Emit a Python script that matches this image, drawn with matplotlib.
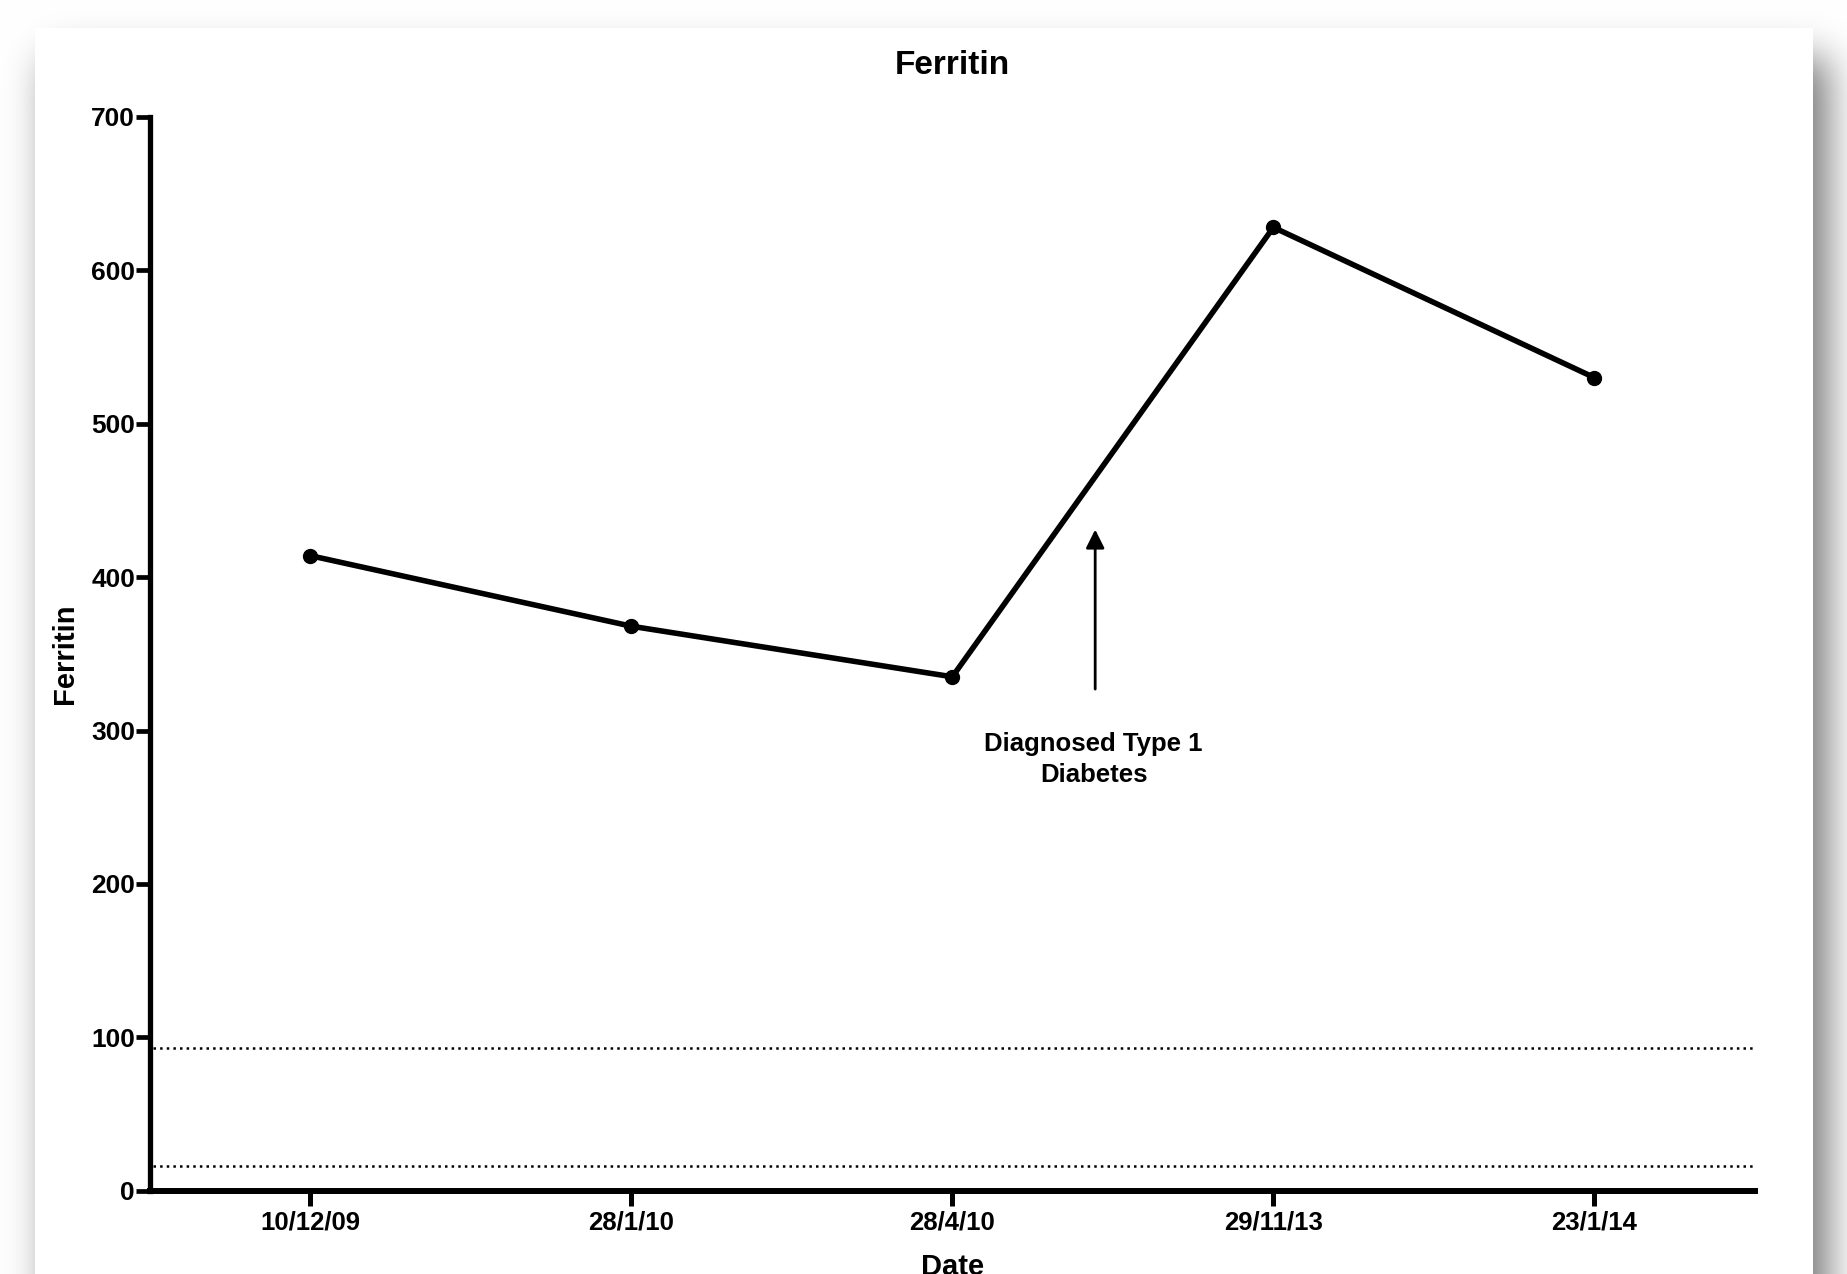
import numpy as np
import matplotlib.pyplot as plt

# data
dates = ['10/12/09', '28/1/10', '28/4/10', '29/11/13', '23/1/14']
ferritin = [414, 368, 335, 628, 530]
ref_upper = 93
ref_lower = 16
note_text = 'Diagnosed Type 1\nDiabetes'
note_x = 2.445
note_tail = 327
note_head = 431
note_text_y = 281

W, H = 1847, 1274
plt.rcParams['font.family'] = ['Liberation Sans', 'DejaVu Sans']
plt.rcParams['font.weight'] = 'bold'

fig = plt.figure(figsize=(W / 100, H / 100), dpi=100)

# white card with a soft drop shadow behind the plot
def soft_edge(n, lo, hi, sigma):
    ind = np.zeros(n + 200)
    ind[max(lo + 100, 0):min(hi + 100, n + 200)] = 1.0
    k = np.arange(-4 * sigma, 4 * sigma + 1)
    kern = np.exp(-0.5 * (k / sigma) ** 2)
    kern /= kern.sum()
    return np.convolve(ind, kern, mode='same')[100:100 + n]

card_x0, card_x1, card_y0 = 35, 1813, 28
dx, dy, sig = 14, 30, 20
sx = soft_edge(W, card_x0 + dx, card_x1 + dx, sig)
sy = soft_edge(H, card_y0 + dy, H + 200, sig)
shade = 1 - 0.55 * np.outer(sy, sx)
shade[card_y0:, card_x0:card_x1] = 1.0
bg = np.dstack([shade, shade, shade])
fig.figimage(bg, 0, 0, origin='upper', zorder=-1)

ax = fig.add_axes([149.6 / W, 1 - 1190.7 / H, (1755 - 149.6) / W, (1190.7 - 116.9) / H])
ax.set_facecolor('none')

x = np.arange(len(dates))
ax.plot(x, ferritin, color='black', linewidth=4, marker='o', markersize=10,
        clip_on=False, zorder=3)

ax.hlines([ref_upper, ref_lower], -0.49, 4.5, colors='black', linestyles=':',
          linewidth=1.8)

ax.annotate('', xy=(note_x, note_head), xytext=(note_x, note_tail),
            arrowprops=dict(arrowstyle='-|>', color='black', lw=2,
                            mutation_scale=28, shrinkA=0, shrinkB=0))
ax.text(note_x - 0.005, note_text_y, note_text, ha='center', va='center',
        fontsize=18.5, fontweight='bold', linespacing=1.35)

ax.set_xlim(-0.5, 4.5)
ax.set_ylim(0, 700)
ax.set_xticks(x)
ax.set_xticklabels(dates)
ax.set_yticks(np.arange(0, 701, 100))

for s in ['top', 'right']:
    ax.spines[s].set_visible(False)
ax.spines['left'].set_linewidth(3.8)
ax.spines['bottom'].set_linewidth(4.3)

ax.tick_params(axis='x', length=10.5, width=3.6, pad=3.5, labelsize=18.5)
ax.tick_params(axis='y', length=10, width=3.4, pad=0.5, labelsize=19)

ax.set_title('Ferritin', fontsize=24, fontweight='bold', pad=31)
ax.set_ylabel('Ferritin', fontsize=21, fontweight='bold', va='center')
ax.yaxis.set_label_coords(-0.0527, 0.5)
ax.set_xlabel('Date', fontsize=21, fontweight='bold', va='baseline')
ax.xaxis.set_label_coords(0.5, -0.0785)

fig.savefig('out.png', dpi=100)
